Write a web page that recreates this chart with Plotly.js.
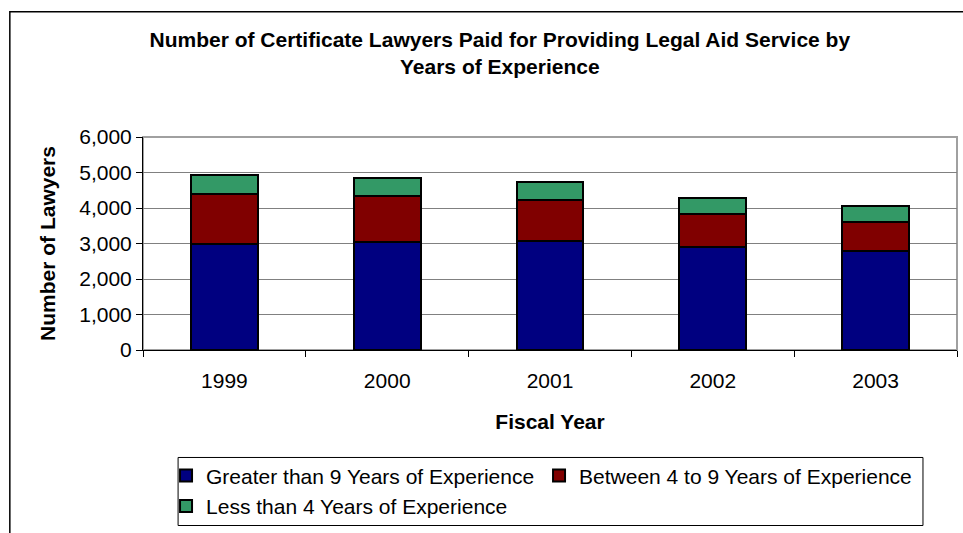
<!DOCTYPE html>
<html>
<head>
<meta charset="utf-8">
<script src="https://cdn.plot.ly/plotly-3.0.1.min.js"></script>
<style>
  html, body { margin: 0; padding: 0; background: #fff; }
  #lawyers { width: 963px; height: 533px; }
</style>
</head>
<body>
<div id="lawyers"></div>
<script>
var years = ['1999', '2000', '2001', '2002', '2003'];
var greaterThan9 = [2990, 3055, 3075, 2900, 2795];
var between4to9 = [1400, 1280, 1140, 925, 805];
var lessThan4 = [540, 510, 505, 445, 465];

var outline = {color: '#000000', width: 2};

var trace1 = {
  x: years,
  y: greaterThan9,
  type: 'bar',
  name: 'Greater than 9 Years of Experience',
  marker: {color: '#000080', line: outline}
};

var trace2 = {
  x: years,
  y: between4to9,
  type: 'bar',
  name: 'Between 4 to 9 Years of Experience',
  marker: {color: '#800000', line: outline}
};

var trace3 = {
  x: years,
  y: lessThan4,
  type: 'bar',
  name: 'Less than 4 Years of Experience',
  marker: {color: '#339966', line: outline}
};

var data = [trace1, trace2, trace3];

var font = 'Liberation Sans, Arial, sans-serif';

var layout = {
  width: 963,
  height: 533,
  margin: {l: 143, r: 6, t: 137, b: 180},
  paper_bgcolor: '#ffffff',
  plot_bgcolor: '#ffffff',
  font: {family: font, size: 21, color: '#000000'},
  barmode: 'stack',
  bargap: 0.59,
  showlegend: true,
  hovermode: false,
  title: {
    text: '<b>Number of Certificate Lawyers Paid for Providing Legal Aid Service by<br>Years of Experience</b>',
    font: {family: font, size: 21, color: '#000000'},
    x: 0.519,
    xanchor: 'center',
    y: 0.912,
    yanchor: 'top'
  },
  xaxis: {
    title: {text: '<b>Fiscal Year</b>', standoff: 23, font: {size: 21}},
    type: 'category',
    showline: true,
    linecolor: '#000000',
    linewidth: 1,
    ticks: 'outside',
    tickson: 'boundaries',
    ticklen: 6,
    tickcolor: '#000000',
    ticklabelstandoff: 12,
    showgrid: false,
    automargin: false
  },
  yaxis: {
    title: {text: '<b>Number of Lawyers</b>', standoff: 17, font: {size: 21}},
    range: [0, 6000],
    dtick: 1000,
    tickformat: ',d',
    showline: true,
    linecolor: '#000000',
    linewidth: 1,
    ticks: 'outside',
    ticklen: 6,
    tickcolor: '#000000',
    showgrid: true,
    gridcolor: '#808080',
    gridwidth: 1,
    zeroline: false,
    automargin: false
  },
  legend: {
    orientation: 'h',
    x: 0.0283,
    xanchor: 'left',
    y: -0.495,
    yanchor: 'top',
    borderwidth: 0,
    bgcolor: 'rgba(0,0,0,0)',
    itemwidth: 30,
    entrywidth: 328,
    traceorder: 'normal',
    font: {family: font, size: 21}
  },
  shapes: [
    {
      type: 'rect', xref: 'paper', yref: 'paper',
      x0: 0, x1: 1, y0: 0, y1: 1,
      line: {color: '#a0a0a0', width: 2},
      layer: 'below'
    },
    {
      type: 'rect', xref: 'paper', yref: 'paper',
      x0: -0.1636, x1: 1.2, y0: -1.2, y1: 1.588,
      line: {color: '#000000', width: 1.5},
      layer: 'below'
    },
    {
      type: 'rect', xref: 'paper', yref: 'paper',
      x0: 0.0431, x1: 0.9582, y0: -0.824, y1: -0.5046,
      line: {color: '#000000', width: 1},
      layer: 'below'
    }
  ]
};

Plotly.newPlot('lawyers', data, layout, {displayModeBar: false, staticPlot: true});
</script>
</body>
</html>
